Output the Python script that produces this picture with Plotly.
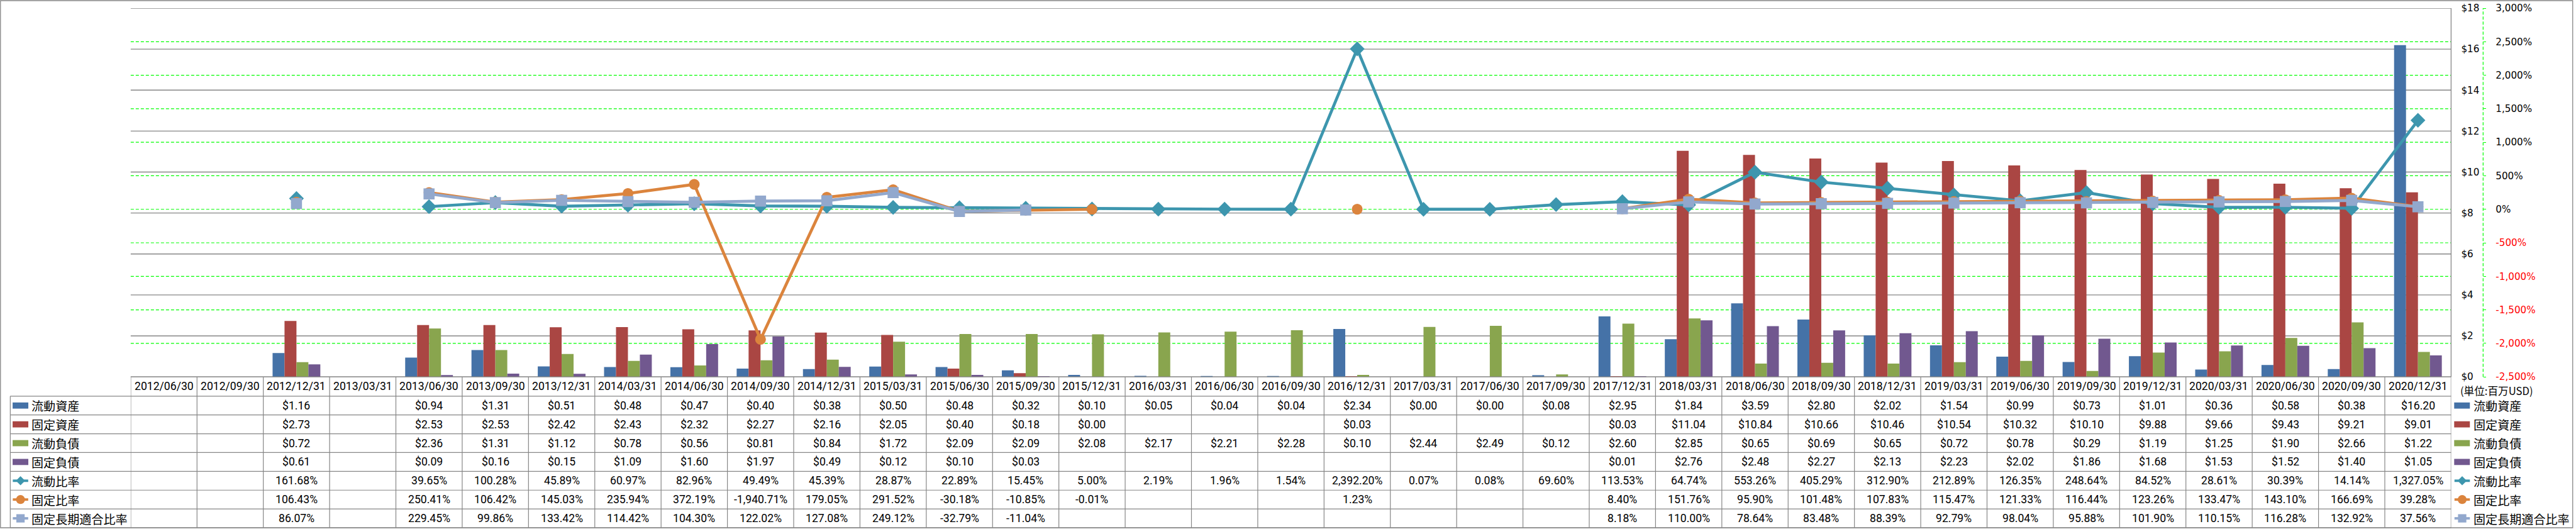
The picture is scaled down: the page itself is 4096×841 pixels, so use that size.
import plotly.graph_objects as go

W, H = 4096, 841
S = 0.979  # scale from reference pixels to output pixels

categories = [
    "2012/06/30", "2012/09/30", "2012/12/31", "2013/03/31", "2013/06/30", "2013/09/30",
    "2013/12/31", "2014/03/31", "2014/06/30", "2014/09/30", "2014/12/31", "2015/03/31",
    "2015/06/30", "2015/09/30", "2015/12/31", "2016/03/31", "2016/06/30", "2016/09/30",
    "2016/12/31", "2017/03/31", "2017/06/30", "2017/09/30", "2017/12/31", "2018/03/31",
    "2018/06/30", "2018/09/30", "2018/12/31", "2019/03/31", "2019/06/30", "2019/09/30",
    "2019/12/31", "2020/03/31", "2020/06/30", "2020/09/30", "2020/12/31",
]

current_assets = [None, None, 1.16, None, 0.94, 1.31, 0.51, 0.48, 0.47, 0.40, 0.38, 0.50,
                  0.48, 0.32, 0.10, 0.05, 0.04, 0.04, 2.34, 0.00, 0.00, 0.08, 2.95, 1.84,
                  3.59, 2.80, 2.02, 1.54, 0.99, 0.73, 1.01, 0.36, 0.58, 0.38, 16.20]
fixed_assets = [None, None, 2.73, None, 2.53, 2.53, 2.42, 2.43, 2.32, 2.27, 2.16, 2.05,
                0.40, 0.18, 0.00, None, None, None, 0.03, None, None, None, 0.03, 11.04,
                10.84, 10.66, 10.46, 10.54, 10.32, 10.10, 9.88, 9.66, 9.43, 9.21, 9.01]
current_liab = [None, None, 0.72, None, 2.36, 1.31, 1.12, 0.78, 0.56, 0.81, 0.84, 1.72,
                2.09, 2.09, 2.08, 2.17, 2.21, 2.28, 0.10, 2.44, 2.49, 0.12, 2.60, 2.85,
                0.65, 0.69, 0.65, 0.72, 0.78, 0.29, 1.19, 1.25, 1.90, 2.66, 1.22]
fixed_liab = [None, None, 0.61, None, 0.09, 0.16, 0.15, 1.09, 1.60, 1.97, 0.49, 0.12,
              0.10, 0.03, None, None, None, None, None, None, None, None, 0.01, 2.76,
              2.48, 2.27, 2.13, 2.23, 2.02, 1.86, 1.68, 1.53, 1.52, 1.40, 1.05]
current_ratio = [None, None, 161.68, None, 39.65, 100.28, 45.89, 60.97, 82.96, 49.49, 45.39, 28.87,
                 22.89, 15.45, 5.00, 2.19, 1.96, 1.54, 2392.20, 0.07, 0.08, 69.60, 113.53, 64.74,
                 553.26, 405.29, 312.90, 212.89, 126.35, 248.64, 84.52, 28.61, 30.39, 14.14, 1327.05]
fixed_ratio = [None, None, 106.43, None, 250.41, 106.42, 145.03, 235.94, 372.19, -1940.71, 179.05, 291.52,
               -30.18, -10.85, -0.01, None, None, None, 1.23, None, None, None, 8.40, 151.76,
               95.90, 101.48, 107.83, 115.47, 121.33, 116.44, 123.26, 133.47, 143.10, 166.69, 39.28]
fixed_lt_ratio = [None, None, 86.07, None, 229.45, 99.86, 133.42, 114.42, 104.30, 122.02, 127.08, 249.12,
                  -32.79, -11.04, None, None, None, None, None, None, None, None, 8.18, 110.00,
                  78.64, 83.48, 88.39, 92.79, 98.04, 95.88, 101.90, 110.15, 116.28, 132.92, 37.56]

bar_names = ["流動資産", "固定資産", "流動負債", "固定負債"]
line_names = ["流動比率", "固定比率", "固定長期適合比率"]
unit_label = "(単位:百万USD)"

usd_ticks = list(range(0, 19, 2))
pct_ticks = list(range(-2500, 3001, 500))

bar_colors = ["#4572A7", "#AA4643", "#89A54E", "#71588F"]
line_colors = ["#3D96AE", "#DB843D", "#92A8CD"]
line_symbols = ["diamond", "circle", "square"]
marker_sizes = [18.5, 17.5, 18.0]
legend_marker_sizes = [11.5, 14.5, 13.5]

GRID_GRAY = "#868686"
GRID_GREEN = "#00FF00"
LATIN = "Roboto, 'Noto Sans CJK JP', sans-serif"
CJK = "'Noto Sans CJK JP', sans-serif"
TICKFONT = "'DejaVu Sans', Verdana, sans-serif"


def PX(x):
    return x * S / W


def PY(y):
    return 1 - y * S / H


# reference-pixel geometry
PLOT_L, PLOT_R, PLOT_T, PLOT_B = 212.3, 3981.0, 13.3, 612.0
TABLE_L = 16.7
ROW0 = 643.3
ROW_H = 30.53
row_bounds = [ROW0 + k * ROW_H for k in range(8)]
header_center = (PLOT_B + ROW0) / 2
row_centers = [(row_bounds[k] + row_bounds[k + 1]) / 2 for k in range(7)]
AX2_X = 4033.0

fig = go.Figure()

bar_series = [current_assets, fixed_assets, current_liab, fixed_liab]
for name, vals, col in zip(bar_names, bar_series, bar_colors):
    fig.add_trace(go.Bar(x=categories, y=vals, name=name, xaxis="x", yaxis="y",
                         marker=dict(color=col, line=dict(width=0)), hoverinfo="skip"))

line_series = [current_ratio, fixed_ratio, fixed_lt_ratio]
for name, vals, col, sym, sz in zip(line_names, line_series, line_colors, line_symbols, marker_sizes):
    fig.add_trace(go.Scatter(x=categories, y=vals, name=name, xaxis="x", yaxis="y2",
                             mode="lines+markers", connectgaps=False,
                             line=dict(color=col, width=4.8 * S),
                             marker=dict(symbol=sym, size=sz * S, color=col),
                             hoverinfo="skip", cliponaxis=False))

# legend symbols for line series (pixel axes covering whole figure)
for k, (col, sym, lsz) in enumerate(zip(line_colors, line_symbols, legend_marker_sizes)):
    yc = row_centers[4 + k] * S
    for xc in (33.3, 3999.0):
        fig.add_trace(go.Scatter(x=[(xc - 12.5) * S, (xc + 12.5) * S], y=[yc, yc], mode="lines",
                                 line=dict(color=col, width=4 * S), xaxis="x3", yaxis="y3",
                                 hoverinfo="skip"))
        fig.add_trace(go.Scatter(x=[xc * S], y=[yc], mode="markers",
                                 marker=dict(symbol=sym, size=lsz * S, color=col),
                                 xaxis="x3", yaxis="y3", hoverinfo="skip"))

shapes = []
# green dashed gridlines (secondary % axis)
for v in pct_ticks[1:-1]:
    shapes.append(dict(type="line", xref="paper", yref="y2", x0=PX(PLOT_L), x1=PX(PLOT_R), y0=v, y1=v,
                       line=dict(color=GRID_GREEN, width=1.2, dash="5px,3px"), layer="below"))
# gray gridlines (primary $ axis)
for v in usd_ticks:
    shapes.append(dict(type="line", xref="paper", yref="y", x0=PX(PLOT_L), x1=PX(PLOT_R), y0=v, y1=v,
                       line=dict(color=GRID_GRAY, width=1.3), layer="below"))
# right border of plot area
shapes.append(dict(type="line", xref="paper", yref="paper", x0=PX(PLOT_R), x1=PX(PLOT_R),
                   y0=PY(PLOT_B), y1=PY(PLOT_T), line=dict(color=GRID_GRAY, width=1.3)))
# secondary axis line (dashed green)
shapes.append(dict(type="line", xref="paper", yref="paper", x0=PX(AX2_X), x1=PX(AX2_X),
                   y0=PY(PLOT_B), y1=PY(PLOT_T), line=dict(color=GRID_GREEN, width=1.2, dash="5px,3px")))

# data table lines
for k, yb in enumerate(row_bounds):
    shapes.append(dict(type="line", xref="paper", yref="paper", x0=PX(TABLE_L), x1=PX(PLOT_R),
                       y0=PY(yb), y1=PY(yb), line=dict(color=GRID_GRAY, width=1.2)))
shapes.append(dict(type="line", xref="paper", yref="paper", x0=PX(TABLE_L), x1=PX(TABLE_L),
                   y0=PY(row_bounds[-1]), y1=PY(ROW0), line=dict(color=GRID_GRAY, width=1.2)))
for i in range(len(categories) + 1):
    shapes.append(dict(type="line", xref="x", yref="paper", x0=i - 0.5, x1=i - 0.5,
                       y0=PY(row_bounds[-1]), y1=PY(PLOT_B), line=dict(color=GRID_GRAY, width=1.2)))
shapes.append(dict(type="line", xref="paper", yref="paper", x0=PX(PLOT_L), x1=PX(PLOT_R),
                   y0=PY(PLOT_B), y1=PY(PLOT_B), line=dict(color=GRID_GRAY, width=1.3)))

# legend swatches for bars
for k, col in enumerate(bar_colors):
    yc = row_centers[k]
    for x0 in (20.5, 3986.0):
        shapes.append(dict(type="rect", xref="paper", yref="paper", x0=PX(x0), x1=PX(x0 + 25.5),
                           y0=PY(yc + 5), y1=PY(yc - 5), line=dict(width=0), fillcolor=col))

# outer chart border
shapes.append(dict(type="rect", xref="paper", yref="paper", x0=PX(0.8), x1=PX(4178.5),
                   y0=PY(857.0), y1=PY(1.0), line=dict(color=GRID_GRAY, width=1.3)))

annotations = []
# header row: category labels
for c in categories:
    annotations.append(dict(x=c, xref="x", y=PY(header_center), yref="paper", text=c,
                            showarrow=False, xanchor="center", yanchor="middle",
                            font=dict(family=LATIN, size=18 * S, color="#000000")))
# table values
all_series = bar_series + line_series
for r, vals in enumerate(all_series):
    for c, v in zip(categories, vals):
        if v is None:
            continue
        txt = f"${v:,.2f}" if r < 4 else f"{v:,.2f}%"
        annotations.append(dict(x=c, xref="x", y=PY(row_centers[r]), yref="paper", text=txt,
                                showarrow=False, xanchor="center", yanchor="middle",
                                font=dict(family=LATIN, size=18 * S, color="#000000")))
# legend labels (left column and right side)
for r, name in enumerate(bar_names + line_names):
    for xl in (49.3, 4015.5):
        annotations.append(dict(x=PX(xl), xref="paper", y=PY(row_centers[r]), yref="paper", text=name,
                                showarrow=False, xanchor="left", yanchor="middle",
                                font=dict(family=CJK, size=19.5 * S, color="#000000")))
annotations.append(dict(x=PX(3994), xref="paper", y=PY(634), yref="paper", text=unit_label,
                        showarrow=False, xanchor="left", yanchor="middle",
                        font=dict(family=CJK, size=17 * S, color="#000000")))

usd_text = [f"${v}" for v in usd_ticks]
pct_text = [(f'<span style="color:#FF0000">{v:,}%</span>' if v < 0 else f"{v:,}%") for v in pct_ticks]

fig.update_layout(
    width=W, height=H,
    margin=dict(l=0, r=0, t=0, b=0, pad=0, autoexpand=False),
    paper_bgcolor="white", plot_bgcolor="rgba(0,0,0,0)",
    barmode="group", bargap=0.28, bargroupgap=0,
    showlegend=False,
    font=dict(family=LATIN, color="#000000"),
    xaxis=dict(domain=[PX(PLOT_L), PX(PLOT_R)], type="category", categoryorder="array",
               categoryarray=categories, range=[-0.5, len(categories) - 0.5],
               showticklabels=False, ticks="", showgrid=False, zeroline=False, showline=False,
               fixedrange=True, anchor="y"),
    yaxis=dict(domain=[PY(PLOT_B), PY(PLOT_T)], range=[0, 18], tickvals=usd_ticks, ticktext=usd_text,
               side="right", anchor="x", showgrid=False, zeroline=False, showline=False, ticks="",
               ticklabelstandoff=int(round(15 * S)), automargin=False,
               tickfont=dict(family=TICKFONT, size=15.5 * S, color="#000000"), fixedrange=True),
    yaxis2=dict(overlaying="y", side="right", anchor="free", position=PX(AX2_X), range=[-2500, 3000],
                tickvals=pct_ticks, ticktext=pct_text, ticks="outside", ticklen=4, tickwidth=1.2,
                tickcolor=GRID_GREEN, showgrid=False, zeroline=False, showline=False,
                ticklabelstandoff=int(round(12 * S)), automargin=False,
                tickfont=dict(family=TICKFONT, size=15.5 * S, color="#000000"), fixedrange=True),
    xaxis3=dict(domain=[0, 1], range=[0, W], visible=False, anchor="y3", fixedrange=True),
    yaxis3=dict(domain=[0, 1], range=[H, 0], visible=False, anchor="x3", fixedrange=True),
    shapes=shapes,
    annotations=annotations,
)

fig.write_html("out.html", config={"displayModeBar": False, "responsive": False},
               post_script="document.body.style.margin='0';document.body.style.overflow='hidden';")
